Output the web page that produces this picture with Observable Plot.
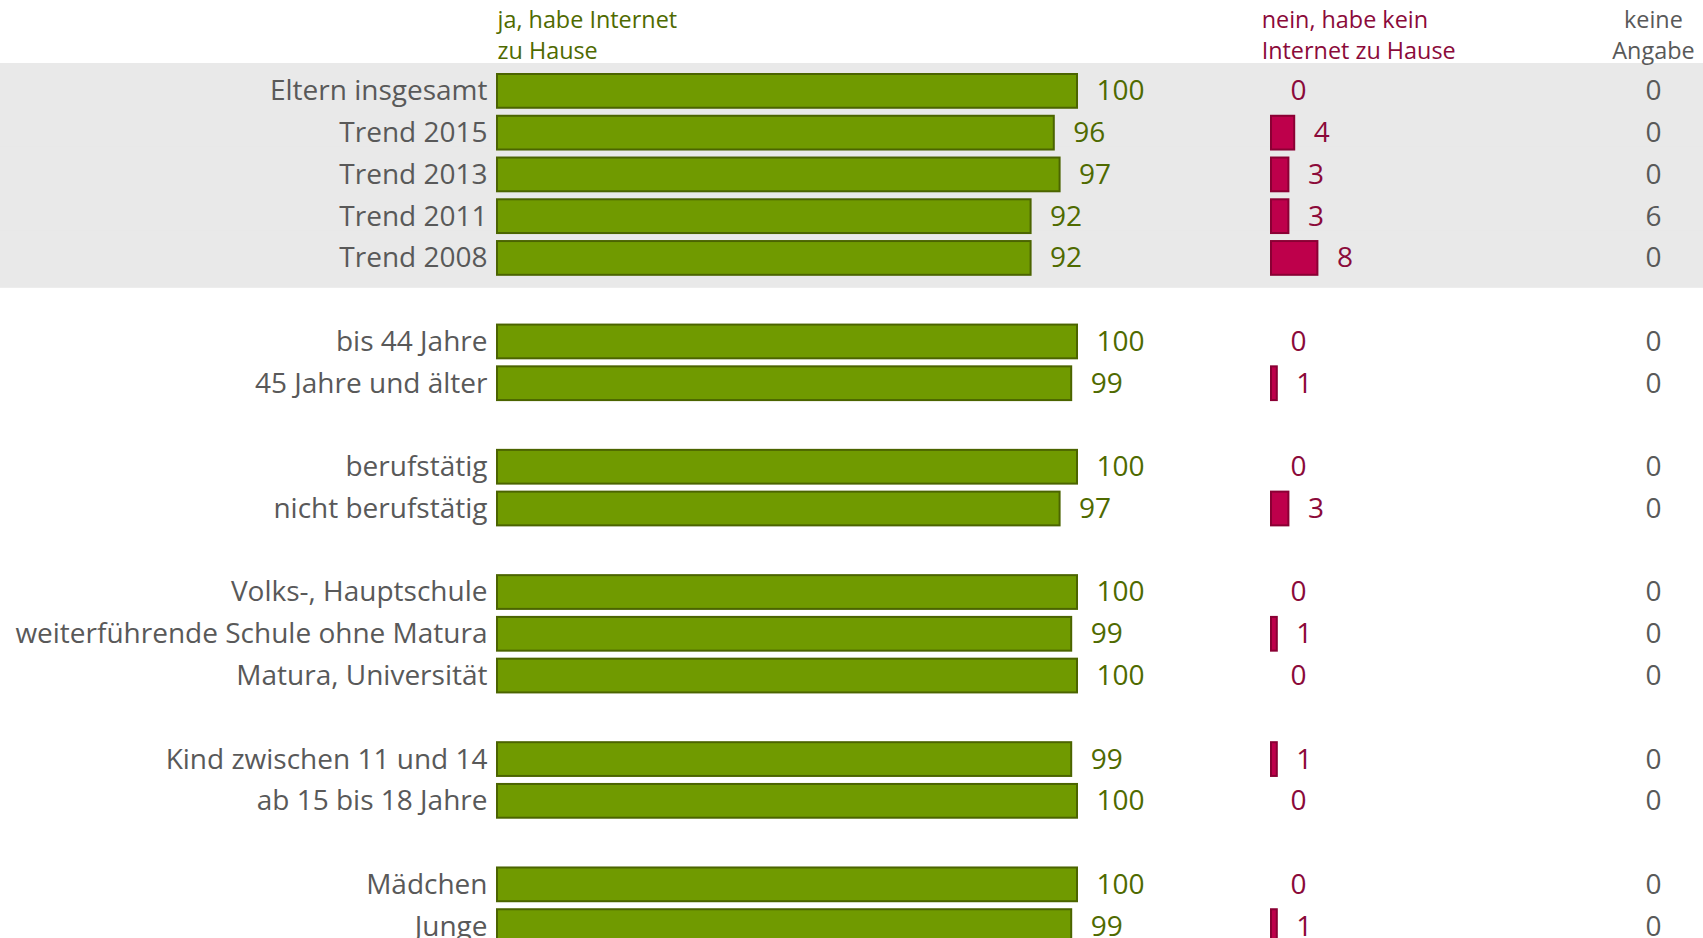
<!DOCTYPE html>
<html>
<head>
<meta charset="utf-8">
<script src="https://cdn.jsdelivr.net/npm/d3@7"></script>
<script src="https://cdn.jsdelivr.net/npm/@observablehq/plot@0.6"></script>
<style>
  html, body { margin: 0; padding: 0; background: #fff; overflow: hidden; }
</style>
</head>
<body>
<div id="chart"></div>
<script>
// ---- data ----
const categories = ["Eltern insgesamt", "Trend 2015", "Trend 2013", "Trend 2011", "Trend 2008",
  "bis 44 Jahre", "45 Jahre und älter",
  "berufstätig", "nicht berufstätig",
  "Volks-, Hauptschule", "weiterführende Schule ohne Matura", "Matura, Universität",
  "Kind zwischen 11 und 14", "ab 15 bis 18 Jahre",
  "Mädchen", "Junge"];
const groups = [0, 0, 0, 0, 0, 1, 1, 2, 2, 3, 3, 3, 4, 4, 5, 5];
const jaValues = [100, 96, 97, 92, 92, 100, 99, 100, 97, 100, 99, 100, 99, 100, 100, 99];
const neinValues = [0, 4, 3, 3, 8, 0, 1, 0, 3, 0, 1, 0, 1, 0, 0, 1];
const keineValues = [0, 0, 0, 6, 0, 0, 0, 0, 0, 0, 0, 0, 0, 0, 0, 0];
const headers = ["ja, habe Internet\nzu Hause", "nein, habe kein\nInternet zu Hause", "keine\nAngabe"];

// ---- layout constants (in x-scale units) ----
const PINK0 = 133.45;   // start of the "nein" column
const KA_X = 199.3;     // centre of the "keine Angabe" column

const rows = categories.map((c, i) => ({
  cat: c, group: groups[i], ja: jaValues[i], nein: neinValues[i], keine: keineValues[i]
}));

// y domain with blank spacer rows between groups
const domain = [];
rows.forEach((r, i) => {
  if (i > 0 && r.group !== rows[i - 1].group) domain.push("gap" + r.group);
  domain.push(r.cat);
});

const GREEN = "#709a00", GREEN_DK = "#4b6400", GREEN_TXT = "#4f6a00";
const PINK = "#be004b", PINK_DK = "#8a0034", PINK_TXT = "#8b0a3a";
const GRAY_TXT = "#595959";
const FONT = "Open Sans";
const FS = 28, HFS = 23.4;

const headerOpts = {
  frameAnchor: "top", lineAnchor: "bottom", dy: -12, lineHeight: 1.3, fontSize: HFS
};

const chart = Plot.plot({
  width: 1703,
  height: 947,
  marginLeft: 497,
  marginRight: 626,
  marginTop: 70,
  marginBottom: 0,
  style: {fontFamily: FONT, fontSize: FS + "px", background: "transparent"},
  x: {domain: [0, 100], axis: null},
  y: {domain, padding: 0, round: false, axis: null},
  marks: [
    // grey background band for the total / trend rows
    Plot.barX(rows.filter(r => r.group === 0), {
      y: "cat", x1: -90, x2: 215, fill: "#e9e9e9", insetTop: -7, insetBottom: -9
    }),
    // ja bars
    Plot.barX(rows, {
      y: "cat", x: "ja", fill: GREEN, stroke: GREEN_DK, strokeWidth: 2,
      insetTop: 4, insetBottom: 4
    }),
    Plot.text(rows, {
      y: "cat", x: "ja", text: d => String(d.ja), textAnchor: "start", dx: 19,
      fill: GREEN_TXT, fontSize: FS
    }),
    // nein bars
    Plot.barX(rows.filter(r => r.nein > 0), {
      y: "cat", x1: () => PINK0, x2: d => PINK0 + d.nein, fill: PINK, stroke: PINK_DK, strokeWidth: 2,
      insetTop: 4, insetBottom: 4
    }),
    Plot.text(rows, {
      y: "cat", x: d => PINK0 + d.nein, text: d => String(d.nein), textAnchor: "start", dx: 19,
      fill: PINK_TXT, fontSize: FS
    }),
    // keine Angabe
    Plot.text(rows, {
      y: "cat", x: () => KA_X, text: d => String(d.keine), textAnchor: "middle",
      fill: GRAY_TXT, fontSize: FS
    }),
    // category labels
    Plot.text(rows, {
      y: "cat", x: () => 0, text: "cat", textAnchor: "end", dx: -10,
      fill: GRAY_TXT, fontSize: FS
    }),
    // column headers
    Plot.text([headers[0]], {...headerOpts, x: () => 0, text: d => d, textAnchor: "start", fill: GREEN_TXT}),
    Plot.text([headers[1]], {...headerOpts, x: () => PINK0 - 1.7, text: d => d, textAnchor: "start", fill: PINK_TXT}),
    Plot.text([headers[2]], {...headerOpts, x: () => KA_X, text: d => d, textAnchor: "middle", fill: GRAY_TXT})
  ]
});
document.getElementById("chart").appendChild(chart);
</script>
</body>
</html>
